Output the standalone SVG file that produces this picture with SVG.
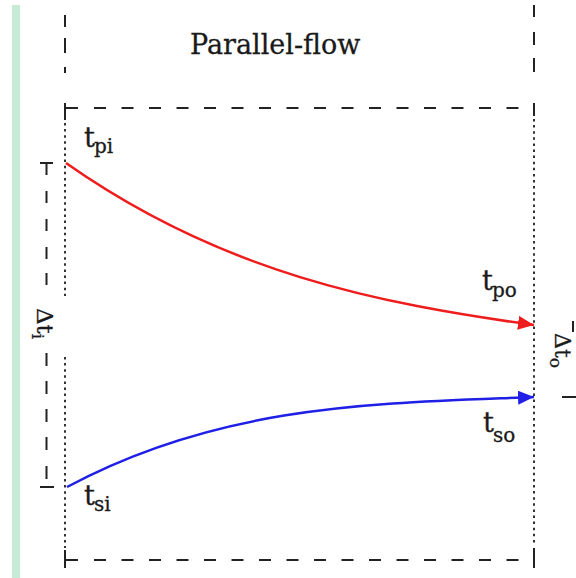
<svg xmlns="http://www.w3.org/2000/svg" width="576" height="578" viewBox="0 0 576 578">
<style>
.dash{stroke:#222;stroke-width:2;fill:none;stroke-dasharray:12 15.5}
.dot{stroke:#333;stroke-width:2;fill:none;stroke-dasharray:2.5 3.6}
.solid{stroke:#222;stroke-width:2;fill:none}
.t{font-family:'DejaVu Serif','Liberation Serif',serif;fill:#1a1a1a;stroke:#1a1a1a;stroke-width:0.3}
.lbl{font-size:27px}
.sub{font-size:20px}
</style>
<defs>
<marker id="arR" markerUnits="userSpaceOnUse" markerWidth="17" markerHeight="15" refX="16" refY="7" orient="auto"><path d="M0,0 L16,7 L0,14 z" fill="#ee1c1c"/></marker>
<marker id="arB" markerUnits="userSpaceOnUse" markerWidth="17" markerHeight="15" refX="16" refY="7" orient="auto"><path d="M0,0 L16,7 L0,14 z" fill="#1f1fe6"/></marker>
</defs>
<rect width="576" height="578" fill="#fff"/>
<rect x="12" y="5" width="8" height="573" fill="#c5ead5"/>
<g id="frame">
<path class="solid" d="M65,15V27M65,38V53M65,67V73"/>
<path class="solid" d="M534,5V17M534,32V45M534,58V72"/>
<path class="solid" d="M65,103V120M65,108H78M534,103V116"/>
<path class="dash" d="M94,108H520"/>
<path class="solid" d="M65,550V568M65,560H78M534,548V568"/>
<path class="dash" d="M94,560H520"/>
<path class="dot" d="M65,123V296M65,357V548"/>
<path class="dot" d="M534,119V546"/>
</g>
<g id="bracket-i">
<path class="solid" d="M40,163H53M46.5,163V175M46.5,191V203M46.5,219V231M46.5,247V259M46.5,273V285"/>
<path class="solid" d="M46.5,353V366M46.5,381V394M46.5,409V422M46.5,437V450M46.5,466V479M40,487H54"/>
<text class="t" font-size="23" transform="translate(37,308) rotate(90)">Δt<tspan dy="5" font-size="17">i</tspan></text>
</g>
<g id="bracket-o">
<path class="solid" d="M573,321V332M562,397H578"/>
<text class="t" font-size="22" transform="translate(555,333) rotate(90)">Δt<tspan dy="5" font-size="17">o</tspan></text>
</g>
<g id="connectors">
<path id="primary" d="M66,163 C222,272.7 378,303.6 534,325" stroke="#ee1c1c" stroke-width="2.5" fill="none" marker-end="url(#arR)"/>
<path id="secondary" d="M67,487 C222.7,403.5 378.3,403.4 534,397" stroke="#1f1fe6" stroke-width="2.5" fill="none" marker-end="url(#arB)"/>
</g>
<g id="title"><text class="t" x="190" y="54" font-size="27">Parallel-flow</text></g>
<g id="label-tpi"><text class="t lbl"><tspan x="84" y="147">t</tspan><tspan class="sub" x="94" y="153">pi</tspan></text></g>
<g id="label-tpo"><text class="t lbl"><tspan x="482" y="290">t</tspan><tspan class="sub" x="492" y="297">po</tspan></text></g>
<g id="label-tso"><text class="t lbl"><tspan x="483" y="432">t</tspan><tspan class="sub" x="493" y="442">so</tspan></text></g>
<g id="label-tsi"><text class="t lbl"><tspan x="84" y="505">t</tspan><tspan class="sub" x="94" y="511">si</tspan></text></g>
</svg>
